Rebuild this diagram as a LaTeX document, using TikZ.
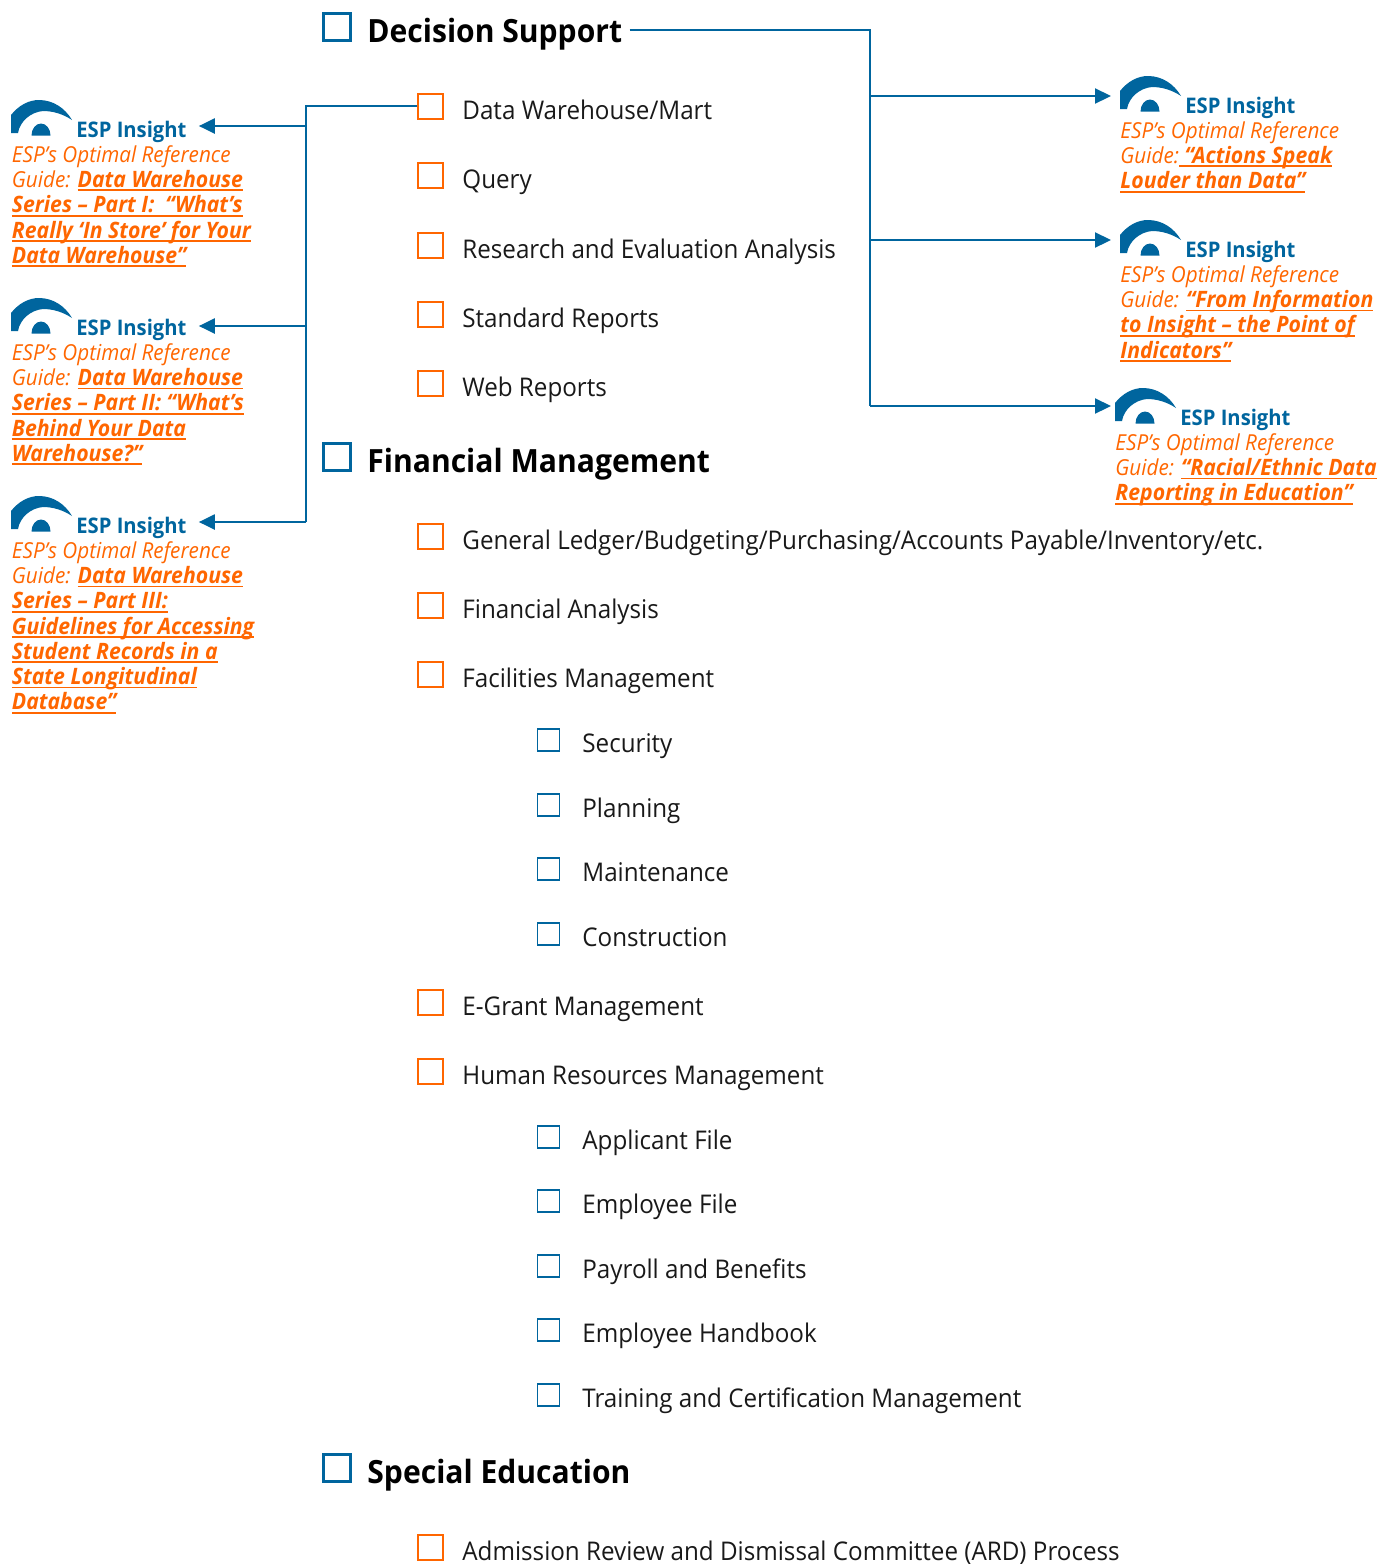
\documentclass[tikz,border=0pt]{standalone}
\usepackage{fontspec}
\setmainfont[FakeStretch=.94]{Open Sans}
\usetikzlibrary{arrows.meta}
\definecolor{espblue}{HTML}{00659E}
\definecolor{esporange}{HTML}{FF6600}
\newsavebox{\lnkbox}
\newcommand{\lnk}[1]{\sbox{\lnkbox}{\fontsize{11.3}{12.6}\selectfont\bfseries #1}\rlap{\rule[-1.9pt]{\wd\lnkbox}{.9pt}}\usebox{\lnkbox}}
\newcommand{\eyelogo}[3]{%
\coordinate(#3)at(#1,#2);
\fill[espblue,shift={(#1,#2)}](0,34)--(0,16)..controls(8,6)and(18,1)..(28,1)..controls(42,1)and(54,9)..(61,21)..controls(52,15)and(42,12)..(32,12)..controls(20,13)and(9,22)..(7,34)--cycle;
\fill[espblue,shift={(#1,#2)}](20.5,36.5)arc[start angle=180,end angle=360,x radius=9.5,y radius=12]--cycle;}
\tikzset{
secbox/.style={draw=espblue,line width=1.7pt,minimum size=13.5pt,inner sep=0pt},
subbox/.style={draw=esporange,line width=1pt,minimum size=12.5pt,inner sep=0pt},
minbox/.style={draw=espblue,line width=.7pt,minimum size=11pt,inner sep=0pt},
sectxt/.style={anchor=base west,inner sep=0pt,font=\fontsize{16}{19}\selectfont\bfseries},
subtxt/.style={anchor=base west,inner sep=0pt,font=\fontsize{12.87}{16}\selectfont,text=black!90},
instxt/.style={anchor=base west,inner sep=0pt,font=\fontsize{10.75}{12}\selectfont\bfseries,text=espblue},
guide/.style={anchor=north west,inner sep=0pt,align=left,text=esporange,font=\fontsize{11}{12.63}\selectfont\itshape},
trunk/.style={draw=espblue,line width=1.1pt},
link/.style={trunk,-{Triangle[length=8pt,width=7.5pt]}}
}
\begin{document}
\begin{tikzpicture}[x=.5pt,y=-.5pt]
\useasboundingbox(0,0)rectangle(1390,1564);
% decision support
\node[secbox](dsBox)at(337,27){};
\node[sectxt](dsTxt)at(367,42){Decision Support};
\node[subbox](dwBox)at(430.5,106){};
\node[subtxt](dwTxt)at(462,119){Data Warehouse/Mart};
\node[subbox](qBox)at(430.5,175){};
\node[subtxt](qTxt)at(462,188){Query};
\node[subbox](reBox)at(430.5,245){};
\node[subtxt](reTxt)at(462,258){Research and Evaluation Analysis};
\node[subbox](srBox)at(430.5,314){};
\node[subtxt](srTxt)at(462,327){Standard Reports};
\node[subbox](wrBox)at(430.5,383){};
\node[subtxt](wrTxt)at(462,396){Web Reports};
% financial management
\node[secbox](fmBox)at(337,457){};
\node[sectxt](fmTxt)at(367,472){Financial Management};
\node[subbox](glBox)at(430.5,536){};
\node[subtxt](glTxt)at(462,549){General Ledger/Budgeting/Purchasing/Accounts Payable/Inventory/etc.};
\node[subbox](faBox)at(430.5,605){};
\node[subtxt](faTxt)at(462,618){Financial Analysis};
\node[subbox](fcBox)at(430.5,674){};
\node[subtxt](fcTxt)at(462,687){Facilities Management};
\node[minbox](secBox)at(548.5,740){};
\node[subtxt](secTxt)at(582,752){Security};
\node[minbox](plBox)at(548.5,805){};
\node[subtxt](plTxt)at(582,817){Planning};
\node[minbox](mtBox)at(548.5,869){};
\node[subtxt](mtTxt)at(582,881){Maintenance};
\node[minbox](coBox)at(548.5,934){};
\node[subtxt](coTxt)at(582,946){Construction};
\node[subbox](egBox)at(430.5,1002){};
\node[subtxt](egTxt)at(462,1015){E-Grant Management};
\node[subbox](hrBox)at(430.5,1071){};
\node[subtxt](hrTxt)at(462,1084){Human Resources Management};
\node[minbox](afBox)at(548.5,1137){};
\node[subtxt](afTxt)at(582,1149){Applicant File};
\node[minbox](efBox)at(548.5,1201){};
\node[subtxt](efTxt)at(582,1213){Employee File};
\node[minbox](pbBox)at(548.5,1266){};
\node[subtxt](pbTxt)at(582,1278){Payroll and Benefits};
\node[minbox](ehBox)at(548.5,1330){};
\node[subtxt](ehTxt)at(582,1342){Employee Handbook};
\node[minbox](tcBox)at(548.5,1395){};
\node[subtxt](tcTxt)at(582,1407){Training and Certification Management};
% special education
\node[secbox](seBox)at(337,1468){};
\node[sectxt](seTxt)at(367,1483){Special Education};
\node[subbox](arBox)at(430.5,1547){};
\node[subtxt](arTxt)at(462,1560){Admission Review and Dismissal Committee (ARD) Process};
% left insights
\eyelogo{11}{99}{eyeA}
\node[instxt](insA)at(76,137){ESP Insight};
\node[guide](guA)at(11.5,145){ESP’s Optimal Reference\\Guide: \lnk{Data Warehouse}\\\lnk{Series – Part I:~~“What’s}\\\lnk{Really ‘In Store’ for Your}\\\lnk{Data Warehouse”}};
\eyelogo{11}{297}{eyeB}
\node[instxt](insB)at(76,335){ESP Insight};
\node[guide](guB)at(11.5,343){ESP’s Optimal Reference\\Guide: \lnk{Data Warehouse}\\\lnk{Series – Part II: “What’s}\\\lnk{Behind Your Data}\\\lnk{Warehouse?”}};
\eyelogo{11}{495}{eyeC}
\node[instxt](insC)at(76,533){ESP Insight};
\node[guide](guC)at(11.5,541){ESP’s Optimal Reference\\Guide: \lnk{Data Warehouse}\\\lnk{Series – Part III:}\\\lnk{Guidelines for Accessing}\\\lnk{Student Records in a}\\\lnk{State Longitudinal}\\\lnk{Database”}};
% right insights
\eyelogo{1120}{75}{eyeD}
\node[instxt](insD)at(1185,113){ESP Insight};
\node[guide](guD)at(1120,121){ESP’s Optimal Reference\\Guide:\lnk{ “Actions Speak}\\\lnk{Louder than Data”}};
\eyelogo{1120}{219}{eyeE}
\node[instxt](insE)at(1185,257){ESP Insight};
\node[guide](guE)at(1120,265){ESP’s Optimal Reference\\Guide: \lnk{“From Information}\\\lnk{to Insight – the Point of}\\\lnk{Indicators”}};
\eyelogo{1115}{387}{eyeF}
\node[instxt](insF)at(1180,425){ESP Insight};
\node[guide](guF)at(1115,433){ESP’s Optimal Reference\\Guide: \lnk{“Racial/Ethnic Data}\\\lnk{Reporting in Education”}};
% connectors
\coordinate(leftTop)at(306,106);
\coordinate(leftA)at(306,126);
\coordinate(leftB)at(306,326);
\coordinate(leftC)at(306,522);
\coordinate(rightTop)at(870,30);
\coordinate(rightA)at(870,96);
\coordinate(rightB)at(870,240);
\coordinate(rightC)at(870,406);
\draw[trunk](dwBox.west)--(leftTop)--(leftC);
\draw[link,shorten >=6pt](leftA)--(leftA-|insA.east);
\draw[link,shorten >=6pt](leftB)--(leftB-|insB.east);
\draw[link,shorten >=6pt](leftC)--(leftC-|insC.east);
\draw[trunk,shorten <=3.5pt](dsTxt.east|-rightTop)--(rightTop)--(rightC);
\draw[link,shorten >=4.5pt](rightA)--(rightA-|eyeD);
\draw[link,shorten >=4.5pt](rightB)--(rightB-|eyeE);
\draw[link,shorten >=2pt](rightC)--(rightC-|eyeF);
\end{tikzpicture}
\end{document}
